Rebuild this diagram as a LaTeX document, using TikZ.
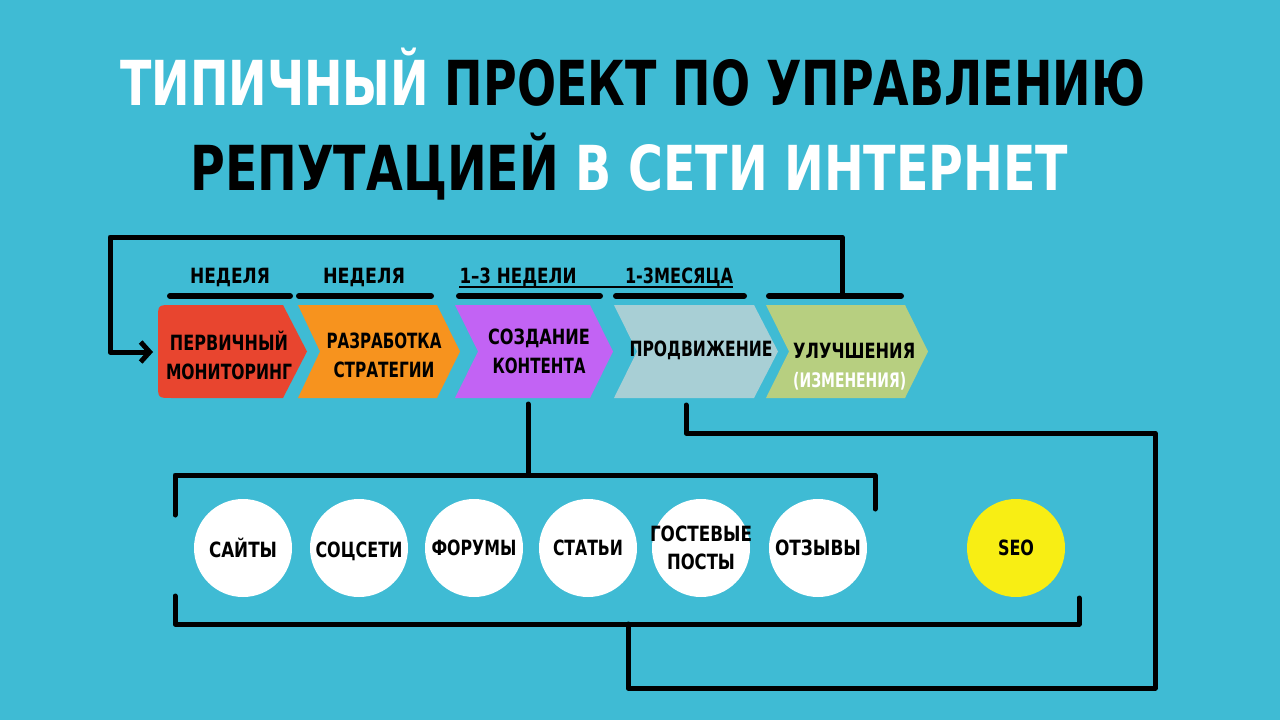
\documentclass[tikz,border=0pt]{standalone}
\usepackage{fontspec}
\setmainfont{DejaVu Sans}
\usepackage{graphicx}
\usetikzlibrary{arrows.meta}
\definecolor{bg}{HTML}{3FBBD4}
\definecolor{cred}{HTML}{E8452F}
\definecolor{corange}{HTML}{F7931E}
\definecolor{cpurple}{HTML}{C263F4}
\definecolor{cgray}{HTML}{A8CFD5}
\definecolor{cgreen}{HTML}{B7CF80}
\definecolor{cyellow}{HTML}{F8EE14}
\newcommand\fw[2]{\resizebox{#1pt}{\height}{#2}}
\begin{document}
\begin{tikzpicture}[x=1pt,y=-1pt,
  conn/.style={line width=5pt, line join=round, line cap=round, black},
  barline/.style={line width=6pt, line cap=round, black},
  lbl/.style={font=\bfseries\fontsize{21}{29}\selectfont, align=center, inner sep=0pt, text=black},
  ttl/.style={font=\bfseries\fontsize{62}{62}\selectfont, anchor=base west, inner sep=0pt, text=black},
  circ/.style={circle, fill=white, minimum size=98pt, inner sep=0pt},
  ctext/.style={font=\bfseries\fontsize{21}{28}\selectfont, align=center, inner sep=0pt, text=black}]
\fill[bg] (0,0) rectangle (1280,720);
\useasboundingbox (0,0) rectangle (1280,720);

% title
\node[ttl] (t1) at (120,105) {\fw{1025}{\textcolor{white}{ТИПИЧНЫЙ} ПРОЕКТ ПО УПРАВЛЕНИЮ}};
\node[ttl] (t2) at (190,190) {\fw{878}{РЕПУТАЦИЕЙ \textcolor{white}{В СЕТИ ИНТЕРНЕТ}}};

% chevrons
\fill[cred] (307,351.5) -- (283,305) -- (172,305) .. controls (158,305) .. (158,319) -- (158,384) .. controls (158,398) .. (172,398) -- (283,398) -- cycle;
\fill[corange] (298,305) -- (437,305) -- (460,351.5) -- (437,398) -- (298,398) -- (320,351.5) -- cycle;
\fill[cpurple] (455,305) -- (590,305) -- (613,351.5) -- (590,398) -- (455,398) -- (478,351.5) -- cycle;
\fill[cgray] (614,305) -- (754,305) -- (778,351.5) -- (754,398) -- (614,398) -- (637,351.5) -- cycle;
\fill[cgreen] (766,305) -- (905,305) -- (928,351.5) -- (905,398) -- (766,398) -- (789,351.5) -- cycle;

\node[lbl] (c1) at (229,355) {\fw{118}{ПЕРВИЧНЫЙ}\\\fw{126}{МОНИТОРИНГ}};
\node[lbl] (c2) at (384,355) {\fw{115}{РАЗРАБОТКА}\\\fw{101}{СТРАТЕГИИ}};
\node[lbl] (c3) at (539,351) {\fw{102}{СОЗДАНИЕ}\\\fw{93}{КОНТЕНТА}};
\node[lbl] (c4) at (701,350) {\fw{143}{ПРОДВИЖЕНИЕ}};
\node[lbl, anchor=north west] (c5) at (793,343) {\fw{122}{УЛУЧШЕНИЯ}};
\node[lbl, anchor=north west, text=white, font=\bfseries\fontsize{20}{24}\selectfont] (c5b) at (793,372) {\fw{113}{(ИЗМЕНЕНИЯ)}};

% duration labels
\node[lbl, anchor=base] (d1) at (230,283) {\fw{80}{НЕДЕЛЯ}};
\node[lbl, anchor=base] (d2) at (364,283) {\fw{82}{НЕДЕЛЯ}};
\node[lbl, anchor=base] (d3) at (518,283) {\fw{117}{1–3 НЕДЕЛИ}};
\node[lbl, anchor=base] (d4) at (679,283) {\fw{108}{1-3МЕСЯЦА}};
\draw[line width=2.2pt] (d3.base west) ++(0,4) coordinate (u1) -- (u1 -| d4.east);

% bars
\coordinate (b1a) at (170,296); \coordinate (b1b) at (290,296);
\coordinate (b2a) at (299,296); \coordinate (b2b) at (431,296);
\coordinate (b3a) at (459,296); \coordinate (b3b) at (600,296);
\coordinate (b4a) at (616,296); \coordinate (b4b) at (744,296);
\coordinate (b5a) at (769,296); \coordinate (b5b) at (901,296);
\draw[barline] (b1a) -- (b1b);
\draw[barline] (b2a) -- (b2b);
\draw[barline] (b3a) -- (b3b);
\draw[barline] (b4a) -- (b4b);
\draw[barline] (b5a) -- (b5b);

% top feedback loop
\coordinate (b5) at (842,296);
\coordinate (in1) at (153,352);
\draw[conn, -{Straight Barb[length=9pt,width=20pt,line width=5pt]}] (b5) -- (842,237) -- (110,237) -- (110,352) -- (in1);

% content brackets
\coordinate (p3) at (528,404);
\coordinate (tb) at (528,475);
\draw[conn] (p3) -- (tb);
\draw[conn] (175,515) -- (175,475) -- (875,475) -- (875,509);
\draw[conn] (175,596) -- (175,624) -- (1079,624) -- (1079,598);

% circles
\node[circ] (s1) at (243,548) {};
\node[circ] (s2) at (359,548) {};
\node[circ] (s3) at (474,548) {};
\node[circ] (s4) at (588,548) {};
\node[circ] (s5) at (701,548) {};
\node[circ] (s6) at (818,548) {};
\node[circ, fill=cyellow] (s7) at (1016,548) {};
\node[ctext] at (s1) {\fw{68}{САЙТЫ}};
\node[ctext] at ([yshift=-3]s2.center) {\fw{87}{СОЦСЕТИ}};
\node[ctext] at (s3) {\fw{85}{ФОРУМЫ}};
\node[ctext] at (s4) {\fw{70}{СТАТЬИ}};
\node[ctext] at (s5) {\fw{102}{ГОСТЕВЫЕ}\\\fw{68}{ПОСТЫ}};
\node[ctext] at (s6) {\fw{86}{ОТЗЫВЫ}};
\node[ctext] at (s7) {\fw{36}{SEO}};

% promotion loop
\coordinate (p4) at (686,405);
\coordinate (bb) at (628,624);
\draw[conn] (p4) -- (686,433) -- (1155,433) -- (1155,688) -- (628,688) -- (bb);
\end{tikzpicture}
\end{document}
